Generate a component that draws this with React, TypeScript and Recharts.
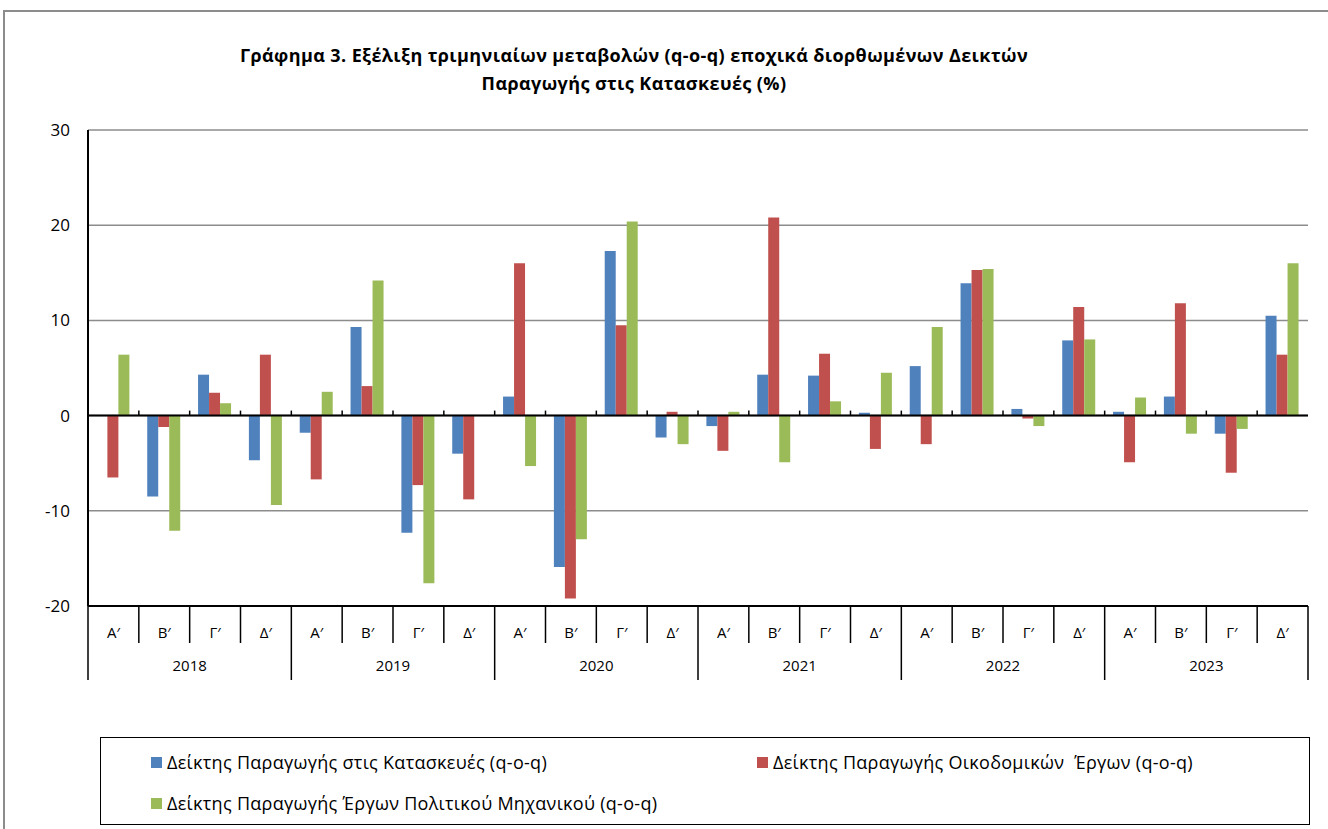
import React from 'react'
import {
  BarChart,
  Bar,
  XAxis,
  YAxis,
  CartesianGrid,
  ReferenceLine,
} from 'recharts'

// Γράφημα 3 — τριμηνιαίες μεταβολές (q-o-q)

const years = ['2018', '2019', '2020', '2021', '2022', '2023']
const quarters = ['Α′', 'Β′', 'Γ′', 'Δ′']
const yTicks = [-20, -10, 0, 10, 20, 30]

// Δείκτης Παραγωγής στις Κατασκευές
const construction = [
  0, -8.5, 4.3, -4.7,
  -1.8, 9.3, -12.3, -4.0,
  2.0, -15.9, 17.3, -2.3,
  -1.1, 4.3, 4.2, 0.3,
  5.2, 13.9, 0.7, 7.9,
  0.4, 2.0, -1.9, 10.5,
]
// Δείκτης Παραγωγής Οικοδομικών Έργων
const building = [
  -6.5, -1.2, 2.4, 6.4,
  -6.7, 3.1, -7.3, -8.8,
  16.0, -19.2, 9.5, 0.4,
  -3.7, 20.8, 6.5, -3.5,
  -3.0, 15.3, -0.3, 11.4,
  -4.9, 11.8, -6.0, 6.4,
]
// Δείκτης Παραγωγής Έργων Πολιτικού Μηχανικού
const civil = [
  6.4, -12.1, 1.3, -9.4,
  2.5, 14.2, -17.6, 0,
  -5.3, -13.0, 20.4, -3.0,
  0.4, -4.9, 1.5, 4.5,
  9.3, 15.4, -1.1, 8.0,
  1.9, -1.9, -1.4, 16.0,
]

const series = [
  { key: 'construction', name: 'Δείκτης Παραγωγής στις Κατασκευές (q-o-q)', color: '#4F81BD' },
  { key: 'building', name: 'Δείκτης Παραγωγής Οικοδομικών  Έργων (q-o-q)', color: '#C0504D' },
  { key: 'civil', name: 'Δείκτης Παραγωγής Έργων Πολιτικού Μηχανικού (q-o-q)', color: '#9BBB59' },
]

const data = years.flatMap((year, yi) =>
  quarters.map((quarter, qi) => {
    const i = yi * 4 + qi
    return {
      key: `${year}-${qi}`,
      year,
      quarter,
      qi,
      construction: construction[i],
      building: building[i],
      civil: civil[i],
    }
  })
)

const W = 1328
const H = 829
const PLOT_LEFT = 88
const PLOT_RIGHT = 1308
const PLOT_TOP = 130
const PLOT_BOTTOM = 606
const BAND = (PLOT_RIGHT - PLOT_LEFT) / data.length
const ZERO_Y = PLOT_TOP + ((30 - 0) / 50) * (PLOT_BOTTOM - PLOT_TOP)
const FONT = '"Open Sans", "Noto Sans", sans-serif'

function CategoryTick(props: any) {
  const { x, payload, index } = props
  const d = data.find((r) => r.key === payload.value) || data[index]
  const left = x - BAND / 2
  const right = x + BAND / 2
  const isLast = index === data.length - 1
  return (
    <g>
      <text
        x={x}
        y={632}
        textAnchor="middle"
        dominantBaseline="central"
        fontSize={15}
        fontFamily={FONT}
        fill="#000"
      >
        {d.quarter}
      </text>
      <line
        x1={left}
        x2={left}
        y1={PLOT_BOTTOM}
        y2={d.qi === 0 ? 680 : 643}
        stroke="#000"
        strokeWidth={1.5}
      />
      {isLast && (
        <line x1={right} x2={right} y1={PLOT_BOTTOM} y2={680} stroke="#000" strokeWidth={1.5} />
      )}
      {index > 0 && (
        <line x1={left} x2={left} y1={ZERO_Y - 5} y2={ZERO_Y} stroke="#000" strokeWidth={1.5} />
      )}
      {d.qi === 1 && (
        <text
          x={right}
          y={665}
          textAnchor="middle"
          dominantBaseline="central"
          fontSize={15}
          fontFamily={FONT}
          fill="#000"
        >
          {d.year}
        </text>
      )}
    </g>
  )
}

export default function App() {
  return (
    <div style={{ position: 'fixed', left: 0, top: 0, width: W, height: H, background: '#fff', overflow: 'hidden' }}>
      <div
        style={{
          position: 'absolute',
          left: 3,
          top: 10,
          width: W + 20,
          height: H + 20,
          border: '2px solid #8c8c8c',
          boxSizing: 'border-box',
        }}
      />
      <div
        style={{
          position: 'absolute',
          left: 0,
          top: 41,
          width: 1268,
          textAlign: 'center',
          fontFamily: FONT,
          fontWeight: 700,
          fontSize: 18,
          letterSpacing: 0.4,
          lineHeight: '28px',
          color: '#000',
        }}
      >
        Γράφημα 3. Εξέλιξη τριμηνιαίων μεταβολών (q-o-q) εποχικά διορθωμένων Δεικτών
        <br />
        Παραγωγής στις Κατασκευές (%)
      </div>

      <div style={{ position: 'absolute', left: 0, top: 0 }}>
        <BarChart
          width={W}
          height={H}
          data={data}
          margin={{ top: PLOT_TOP, right: W - PLOT_RIGHT, bottom: 143, left: 28 }}
          barCategoryGap="16.5%"
          barGap={0}
        >
          <CartesianGrid vertical={false} stroke="#8c8c8c" strokeWidth={1.5} />
          <XAxis
            dataKey="key"
            interval={0}
            height={80}
            tickLine={false}
            axisLine={{ stroke: '#000', strokeWidth: 2 }}
            tick={<CategoryTick />}
          />
          <XAxis
            xAxisId="top"
            dataKey="key"
            orientation="top"
            height={0}
            tick={false}
            tickLine={false}
            axisLine={{ stroke: '#000', strokeWidth: 2 }}
          />
          <YAxis
            domain={[-20, 30]}
            ticks={yTicks}
            width={60}
            tickLine={false}
            tickMargin={12}
            axisLine={{ stroke: '#000', strokeWidth: 2 }}
            tick={{ fill: '#000', fontSize: 17, fontFamily: FONT }}
            allowDataOverflow
          />
          <YAxis
            yAxisId="right"
            orientation="right"
            width={0}
            tick={false}
            tickLine={false}
            axisLine={{ stroke: '#000', strokeWidth: 2 }}
          />
          {series.map((s) => (
            <Bar key={s.key} dataKey={s.key} name={s.name} fill={s.color} isAnimationActive={false} />
          ))}
          <ReferenceLine y={0} stroke="#000" strokeWidth={2} />
        </BarChart>
      </div>

      <div
        style={{
          position: 'absolute',
          left: 100,
          top: 737,
          width: 1210,
          height: 88,
          border: '1px solid #000',
          boxSizing: 'border-box',
          fontFamily: FONT,
          fontSize: 18,
          letterSpacing: 0.3,
          color: '#000',
        }}
      >
        {series.map((s, i) => (
          <div
            key={s.key}
            style={{
              position: 'absolute',
              left: i === 1 ? 656 : 50,
              top: i === 2 ? 53 : 12,
              display: 'flex',
              alignItems: 'center',
              whiteSpace: 'pre',
            }}
          >
            <span style={{ display: 'inline-block', width: 11, height: 11, background: s.color, marginRight: 5 }} />
            {s.name}
          </div>
        ))}
      </div>
    </div>
  )
}
